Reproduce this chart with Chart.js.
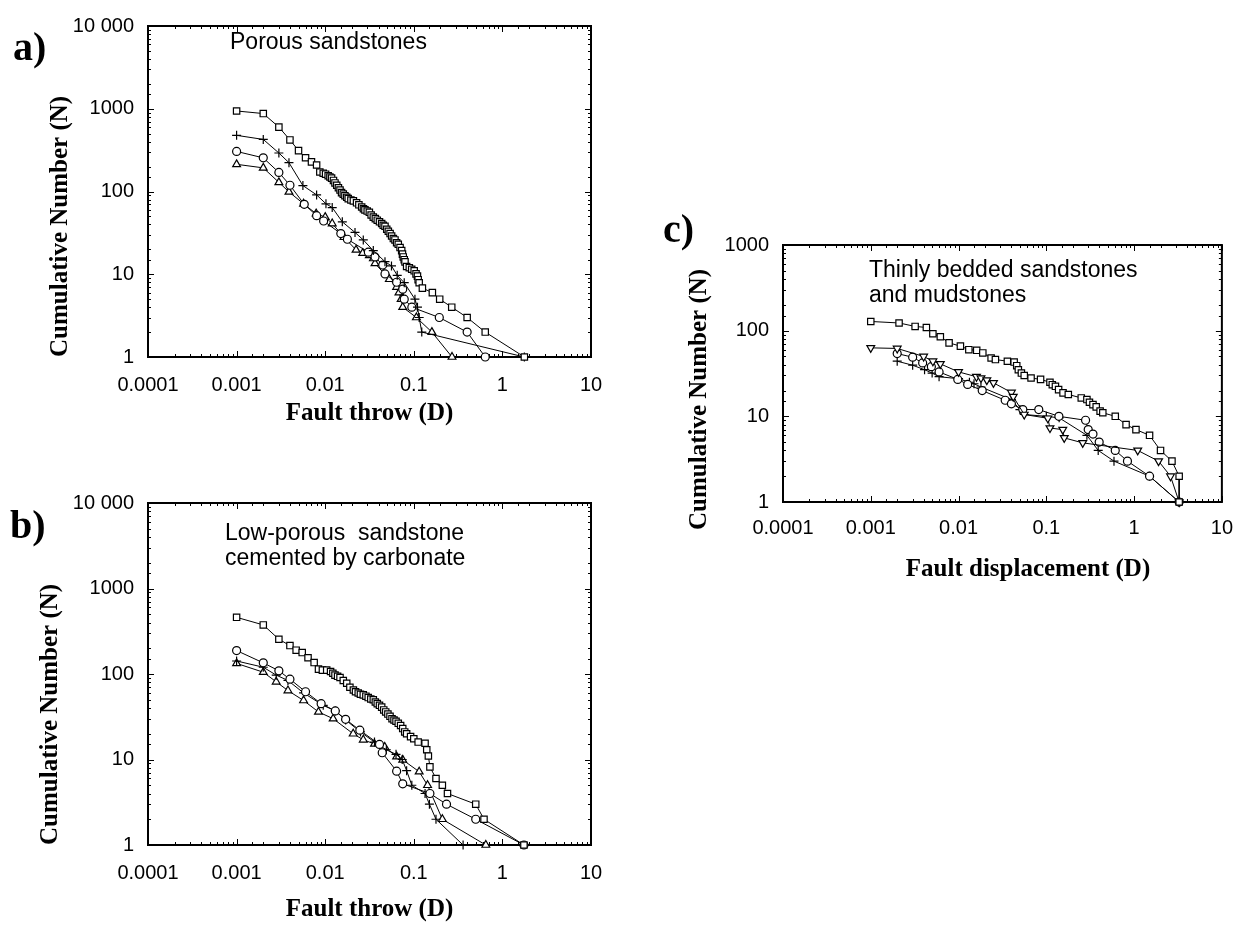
<!DOCTYPE html>
<html>
<head>
<meta charset="utf-8">
<title>Cumulative fault throw distributions</title>
<script src="https://cdn.jsdelivr.net/npm/chart.js"></script>
<style>
  html, body { margin: 0; padding: 0; background: #fff; }
  body { position: relative; width: 1247px; height: 927px; overflow: hidden; }
  canvas { position: absolute; }
  #panelA { left: 0; top: 0; }
  #panelB { left: 0; top: 470px; }
  #panelC { left: 640px; top: 200px; }
</style>
</head>
<body>
<canvas id="panelA" width="620" height="440"></canvas>
<canvas id="panelB" width="620" height="457"></canvas>
<canvas id="panelC" width="607" height="400"></canvas>
<script>
// axis ticks
const xTickValues = [0.0001, 0.001, 0.01, 0.1, 1, 10];
const xTickText = ['0.0001', '0.001', '0.01', '0.1', '1', '10'];
const yTickValues = [1, 10, 100, 1000, 10000];
const yTickText = ['1', '10', '100', '1000', '10 000'];

// a) porous sandstones  [throw, cumulative N]
const aSquare = [[0.001,940],[0.002,875],[0.003,600],[0.004,420],[0.005,312],[0.006,256],[0.007,228],[0.008,209],
  [0.0087,172],[0.0095,166],[0.0101,162],[0.0108,155],[0.0113,150],[0.0118,145],[0.0124,136],[0.0129,127],
  [0.0135,119],[0.0141,111],[0.0147,104],[0.0153,97],[0.016,93],[0.0167,89],[0.0175,85],[0.0182,82],
  [0.0195,79],[0.0208,77],[0.0226,73],[0.024,69],[0.0258,65],[0.027,62],[0.0281,60],[0.0298,58],
  [0.0315,56],[0.033,52],[0.0349,49],[0.0368,47],[0.0387,45],[0.041,43],[0.0434,41],[0.0452,39],
  [0.0473,38],[0.0495,35],[0.0516,33],[0.054,31],[0.0562,29],[0.0588,27],[0.0613,26],[0.064,24],
  [0.0668,23],[0.07,21],[0.073,19.3],[0.0745,17.5],[0.076,16.2],[0.078,15],[0.0796,14.1],[0.083,12.4],
  [0.089,12],[0.0947,11.5],[0.101,11],[0.106,10.1],[0.11,9.5],[0.112,8.6],[0.115,7.9],[0.125,6.8],
  [0.162,6],[0.196,5],[0.268,4],[0.4,3],[0.64,2],[1.77,1]];
const aPlus = [[0.001,477],[0.002,426],[0.003,292],[0.0039,223],[0.0056,118],[0.008,91],[0.0102,71],[0.012,64],
  [0.0156,43],[0.0217,32],[0.0269,26],[0.0349,19.3],[0.0473,14.2],[0.056,12.6],[0.065,9.7],[0.078,7.9],
  [0.103,5],[0.11,4],[0.115,3],[0.123,2],[1.77,1]];
const aCircle = [[0.001,305],[0.002,255],[0.003,170],[0.004,119],[0.0058,70],[0.008,51],[0.0096,44],[0.015,31],
  [0.0178,26.5],[0.0307,18.5],[0.0365,16.2],[0.0446,12.9],[0.0473,10.1],[0.064,8],[0.075,6.6],[0.078,5],
  [0.095,4],[0.194,3],[0.4,2],[0.64,1]];
const aTriangle = [[0.001,213],[0.002,193],[0.003,129],[0.0039,99],[0.0057,71],[0.0079,54],[0.01,49],[0.012,41],
  [0.0163,28],[0.0223,19.7],[0.0265,18],[0.0315,16.9],[0.035,15.5],[0.0365,13.5],[0.053,8.7],[0.064,7],
  [0.068,6],[0.072,5],[0.075,4],[0.107,3],[0.16,2],[0.27,1]];

// b) low-porous sandstone cemented by carbonate
const bSquare = [[0.001,460],[0.002,375],[0.003,255],[0.004,215],[0.0047,190],[0.0055,178],[0.0064,155],[0.0075,136],
  [0.0084,114],[0.0093,111],[0.0104,111],[0.0115,107],[0.0122,102],[0.0129,97],[0.0138,94],[0.0147,91],
  [0.016,84],[0.0175,78],[0.019,70],[0.0208,65],[0.022,62],[0.0236,60],[0.025,58],[0.0269,57],
  [0.0288,55],[0.0306,53],[0.0327,51],[0.0349,50],[0.0368,47],[0.0387,45],[0.041,43],[0.0434,41],
  [0.0458,38],[0.0482,36],[0.051,34],[0.0539,32],[0.0568,30],[0.0598,29],[0.063,28],[0.0668,26.5],
  [0.071,25],[0.075,23],[0.079,21],[0.083,20],[0.092,18.5],[0.1,17.5],[0.112,16],[0.134,15.5],
  [0.14,13],[0.146,11],[0.152,8.2],[0.178,6],[0.21,5],[0.24,4],[0.5,3],[0.62,2],[1.75,1]];
const bCircle = [[0.001,188],[0.002,135],[0.003,109],[0.004,87],[0.006,62],[0.009,45],[0.013,37],[0.017,29.5],
  [0.0246,22],[0.041,15],[0.044,12],[0.064,7.3],[0.075,5.2],[0.152,4],[0.234,3],[0.5,2],[1.75,1]];
const bPlus = [[0.001,142],[0.002,120],[0.0028,97],[0.0038,84],[0.0057,60],[0.0095,43],[0.013,37],[0.017,29],
  [0.025,21],[0.036,16],[0.049,13],[0.063,11.5],[0.074,10],[0.083,7.4],[0.095,5],[0.134,4],
  [0.15,3],[0.178,2],[0.36,1]];
const bTriangle = [[0.001,133],[0.002,105],[0.0028,81],[0.0038,64],[0.0057,49],[0.0084,36],[0.0123,30],[0.0207,20],
  [0.0269,17],[0.036,15.2],[0.047,14],[0.064,10.8],[0.075,9.9],[0.115,7.2],[0.143,5],[0.21,2],[0.65,1]];

// c) thinly bedded sandstones and mudstones
const cSquare = [[0.001,128],[0.0021,123],[0.0032,112],[0.0043,109],[0.0051,92],[0.0062,85],[0.0078,72],[0.0105,66],
  [0.0131,60],[0.0161,59],[0.0189,55],[0.0235,48],[0.0263,46],[0.036,44],[0.043,43],[0.046,39],
  [0.048,35],[0.052,32],[0.056,30],[0.067,28],[0.086,27],[0.11,25],[0.117,23.4],[0.127,22.4],
  [0.138,20.5],[0.155,18.8],[0.178,18],[0.25,16.4],[0.29,15.7],[0.31,14.6],[0.34,13.7],[0.37,12.9],
  [0.41,11.5],[0.44,11],[0.61,10],[0.81,8],[1.05,7],[1.5,6],[2.0,4],[2.7,3],[3.26,2],[3.26,1]];
const cTriangleDown = [[0.001,63],[0.002,62],[0.004,50],[0.0051,44],[0.0062,41],[0.01,33],[0.016,29],[0.018,28],
  [0.021,26.5],[0.025,24.6],[0.04,19],[0.042,17],[0.056,10.5],[0.104,9.5],[0.11,7.3],[0.154,7],
  [0.16,5.6],[0.26,4.9],[1.1,4],[1.9,3],[2.6,2],[3.26,1]];
const cCircle = [[0.002,54],[0.003,49],[0.0039,42],[0.0049,38],[0.006,33],[0.0098,27],[0.0127,23.6],[0.0186,20],
  [0.034,15.4],[0.04,14],[0.054,12],[0.082,12],[0.139,10],[0.28,9],[0.3,7],[0.34,6.2],
  [0.4,5],[0.61,4],[0.84,3],[1.5,2],[3.26,1]];
const cPlus = [[0.002,44],[0.003,39.5],[0.0041,35],[0.005,32],[0.006,29],[0.01,27.5],[0.0133,25],[0.015,24],
  [0.018,22],[0.04,15.7],[0.05,12],[0.056,10.5],[0.1,10],[0.14,9.6],[0.29,6],[0.39,4],
  [0.59,3],[1.5,2],[3.26,1]];

const SANS = '"Liberation Sans", Arial, sans-serif';
const SERIF = '"Liberation Serif", "Times New Roman", serif';
Chart.defaults.font.family = SANS;
Chart.defaults.color = '#000';

const isDecade = v => Math.abs(Math.log10(v) - Math.round(Math.log10(v))) < 1e-6;

function decadeLabel(values, texts) {
  return v => {
    const i = values.findIndex(d => Math.abs(Math.log10(v) - Math.log10(d)) < 1e-6);
    return i >= 0 ? texts[i] : '';
  };
}

// box with inward tick marks, plus free text (panel letter, notes)
const frame = {
  id: 'frame',
  beforeDatasetsDraw(chart) {
    const { ctx, chartArea: a, scales: { x, y } } = chart;
    ctx.save();
    ctx.strokeStyle = '#000';
    ctx.lineWidth = 1;
    ctx.beginPath();
    x.ticks.forEach(t => {
      const p = Math.round(x.getPixelForValue(t.value)) + 0.5;
      const len = isDecade(t.value) ? 6 : 3;
      ctx.moveTo(p, a.bottom); ctx.lineTo(p, a.bottom - len);
      ctx.moveTo(p, a.top); ctx.lineTo(p, a.top + len);
    });
    y.ticks.forEach(t => {
      const p = Math.round(y.getPixelForValue(t.value)) + 0.5;
      const len = isDecade(t.value) ? 6 : 3;
      ctx.moveTo(a.left, p); ctx.lineTo(a.left + len, p);
      ctx.moveTo(a.right, p); ctx.lineTo(a.right - len, p);
    });
    ctx.stroke();
    ctx.lineWidth = 2;
    ctx.strokeRect(a.left, a.top, a.right - a.left, a.bottom - a.top);
    ctx.restore();
  },
  afterDraw(chart, args, opts) {
    const ctx = chart.ctx;
    (opts.texts || []).forEach(t => {
      ctx.save();
      ctx.fillStyle = '#000';
      ctx.font = t.font;
      ctx.textAlign = t.align || 'left';
      ctx.textBaseline = t.baseline || 'alphabetic';
      ctx.translate(t.x, t.y);
      if (t.rotate) ctx.rotate(t.rotate);
      ctx.fillText(t.text, 0, 0);
      ctx.restore();
    });
  }
};

function series(points, style, radius, rotation) {
  return {
    data: points.map(([x, y]) => ({ x, y })),
    showLine: true,
    borderColor: '#000',
    borderWidth: 1,
    pointStyle: style,
    pointRadius: radius,
    pointHoverRadius: radius,
    pointRotation: rotation || 0,
    pointBorderColor: '#000',
    pointBackgroundColor: '#fff',
    pointBorderWidth: 1.2,
    clip: false,
  };
}

const titleFont = { family: SERIF, size: 25, weight: 'bold' };

function panel(id, datasets, o) {
  new Chart(document.getElementById(id), {
    type: 'scatter',
    data: { datasets },
    options: {
      responsive: false,
      animation: false,
      events: [],
      layout: { padding: o.padding },
      plugins: {
        legend: { display: false },
        tooltip: { enabled: false },
        frame: { texts: o.texts },
      },
      scales: {
        x: {
          type: 'logarithmic', min: 0.0001, max: 10,
          grid: { display: false, drawTicks: false },
          border: { display: false },
          ticks: { autoSkip: false, maxRotation: 0, padding: o.xPad, color: '#000', font: { size: 20 },
                   callback: decadeLabel(xTickValues, xTickText) },
          title: o.xTitle
            ? { display: true, text: o.xTitle, color: '#000', font: titleFont, padding: { top: 0, bottom: o.xTitlePad } }
            : { display: false },
          afterFit: s => { s.height = o.xHeight; },
        },
        y: {
          type: 'logarithmic', min: 1, max: o.yMax,
          grid: { display: false, drawTicks: false },
          border: { display: false },
          ticks: { autoSkip: false, padding: 14, color: '#000', font: { size: 20 },
                   callback: decadeLabel(yTickValues, yTickText) },
          title: o.yTitle
            ? { display: true, text: o.yTitle, align: 'start', color: '#000', font: titleFont, padding: { top: o.yTitlePad, bottom: 0 } }
            : { display: false },
          afterFit: s => { s.width = o.yWidth; },
        },
      },
    },
    plugins: [frame],
  });
}

const letterFont = 'bold 40px ' + SERIF;
const noteFont = '23px ' + SANS;

panel('panelA', [
  series(aSquare, 'rect', 4.5),
  series(aPlus, 'cross', 4.5),
  series(aCircle, 'circle', 4),
  series(aTriangle, 'triangle', 4.5),
], {
  padding: { left: 0, top: 14, right: 29, bottom: 0 },
  yWidth: 148, xHeight: 83, yMax: 10000, xPad: 16,
  xTitle: 'Fault throw (D)', xTitlePad: 11,
  yTitle: 'Cumulative Number (N)', yTitlePad: 46,
  texts: [
    { text: 'a)', x: 13, y: 60, font: letterFont },
    { text: 'Porous sandstones', x: 230, y: 49, font: noteFont },
  ],
});

panel('panelB', [
  series(bSquare, 'rect', 4.5),
  series(bCircle, 'circle', 4),
  series(bPlus, 'cross', 4.5),
  series(bTriangle, 'triangle', 4.5),
], {
  padding: { left: 0, top: 33, right: 29, bottom: 0 },
  yWidth: 148, xHeight: 82, yMax: 10000, xPad: 16,
  xTitle: 'Fault throw (D)', xTitlePad: 2,
  yTitle: 'Cumulative Number (N)', yTitlePad: 36,
  texts: [
    { text: 'b)', x: 10, y: 68, font: letterFont },
    { text: 'Low-porous  sandstone', x: 225, y: 70, font: noteFont },
    { text: 'cemented by carbonate', x: 225, y: 95, font: noteFont },
  ],
});

panel('panelC', [
  series(cSquare, 'rect', 4.5),
  series(cTriangleDown, 'triangle', 4.5, 180),
  series(cCircle, 'circle', 4),
  series(cPlus, 'cross', 4.5),
], {
  padding: { left: 0, top: 45, right: 24, bottom: 0 },
  yWidth: 143, xHeight: 98, yMax: 1000, xPad: 14,
  texts: [
    { text: 'c)', x: 23, y: 42, font: letterFont },
    { text: 'Thinly bedded sandstones', x: 229, y: 77, font: noteFont },
    { text: 'and mudstones', x: 229, y: 102, font: noteFont },
    { text: 'Cumulative Number (N)', x: 60, y: 330, rotate: -Math.PI / 2, baseline: 'middle',
      font: 'bold 25px ' + SERIF },
    { text: 'Fault displacement (D)', x: 388, y: 370, align: 'center', baseline: 'middle',
      font: 'bold 25px ' + SERIF },
  ],
});
</script>
</body>
</html>
